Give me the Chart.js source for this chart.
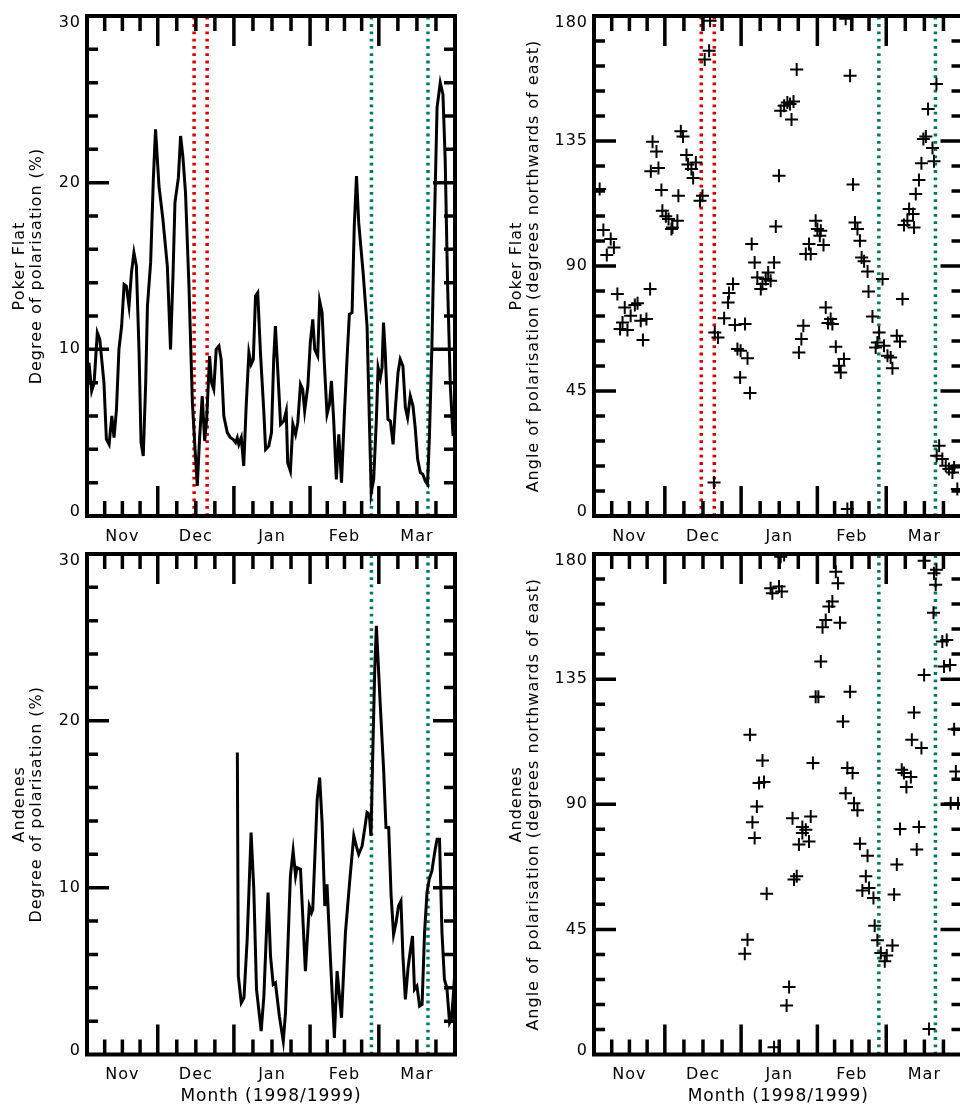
<!DOCTYPE html>
<html>
<head>
<meta charset="utf-8">
<script src="https://cdn.jsdelivr.net/npm/chart.js@4.4.1/dist/chart.umd.min.js"></script>
<style>
  html, body { margin: 0; padding: 0; background: #fff; width: 960px; height: 1109px; overflow: hidden; }
  canvas { position: absolute; }
</style>
</head>
<body>
<canvas id="pfDegree" width="480" height="550" style="left:0;top:0"></canvas>
<canvas id="pfAngle" width="500" height="550" style="left:480px;top:0"></canvas>
<canvas id="anDegree" width="480" height="569" style="left:0;top:540px"></canvas>
<canvas id="anAngle" width="500" height="569" style="left:480px;top:540px"></canvas>
<script>
// Time axis: days counted from 1 November 1998
const xMin = 1.2;
const xMax = 151;
const monthStarts = [30, 61, 92, 120];            // 1 Dec, 1 Jan, 1 Feb, 1 Mar
const monthNames = ['Nov', 'Dec', 'Jan', 'Feb', 'Mar'];

// Event markers
const redMarks = [44.8, 50.1];
const greenMarks = [117.0, 140.0];

// Poker Flat: degree of polarisation (%)
const pfDegDay = [2.0, 3.1, 4.1, 5.4, 6.4, 8.1, 9.1, 10.2, 11.3, 12.2, 13.2, 14.2, 15.3, 16.3, 17.2, 18.3, 19.3, 20.3, 21.3, 22.4,
  23.2, 24.1, 25.1, 25.8, 27.1, 28.2, 29.1, 30.5, 32.1, 33.9, 35.2, 36.2, 37.0, 38.4, 39.3, 40.2, 41.3, 42.7, 44.1, 45.1,
  46.1, 47.0, 48.1, 49.1, 49.9, 51.1, 51.9, 52.8, 53.8, 54.9, 55.8, 56.9, 58.3, 59.6, 60.7, 61.7, 62.4, 63.0, 64.0, 65.0,
  66.0, 67.1, 68.0, 68.9, 69.8, 70.7, 71.8, 73.2, 73.9, 75.2, 76.3, 77.2, 77.9, 78.9, 80.0, 81.3, 82.3, 82.9, 84.0, 85.0,
  86.1, 87.0, 88.1, 89.0, 89.8, 91.1, 92.1, 93.1, 93.9, 95.1, 95.9, 96.9, 97.8, 98.9, 99.9, 100.7, 101.6, 102.7, 103.7, 104.8,
  106.0, 107.1, 108.0, 109.1, 110.0, 110.9, 111.8, 113.6, 115.2, 116.3, 116.9, 117.9, 119.0, 119.7, 120.6, 121.3, 121.9, 122.6, 123.7, 124.7,
  125.8, 126.7, 127.8, 128.7, 129.8, 130.8, 131.7, 132.8, 133.9, 134.8, 135.8, 136.9, 137.9, 138.9, 139.8, 140.6, 141.6, 142.6, 143.7, 145.0,
  146.1, 147.0, 148.0, 149.1, 150.2, 151.1];
const pfDegVal = [9.2, 7.5, 8.0, 11.0, 10.6, 8.0, 4.6, 4.3, 6.0, 4.7, 6.4, 10.0, 11.4, 13.9, 13.8, 12.6, 14.6, 15.8, 15.0, 9.8,
  4.4, 3.6, 8.0, 12.6, 15.2, 20.2, 23.2, 19.8, 17.8, 15.0, 10.0, 14.4, 18.8, 20.3, 22.8, 21.6, 19.4, 13.8, 6.8, 4.2,
  1.8, 4.6, 7.2, 4.5, 5.8, 9.6, 8.0, 7.6, 10.0, 10.2, 9.4, 6.0, 5.0, 4.7, 4.6, 4.4, 4.7, 4.3, 4.7, 3.0,
  6.6, 9.8, 9.1, 9.4, 13.2, 13.4, 9.8, 6.2, 4.0, 4.2, 5.0, 9.4, 11.4, 8.6, 5.5, 5.7, 6.3, 3.2, 2.7, 5.5,
  4.9, 5.6, 7.9, 7.6, 6.3, 7.8, 10.4, 11.8, 10.0, 9.6, 12.9, 12.2, 9.2, 6.1, 6.7, 8.1, 5.8, 2.2, 4.9, 2.0,
  6.2, 9.6, 12.1, 12.2, 17.4, 20.4, 17.6, 14.6, 11.4, 4.8, 1.4, 2.2, 5.8, 8.9, 8.3, 8.9, 11.6, 9.8, 5.8, 5.7,
  4.3, 6.4, 8.6, 9.4, 9.0, 6.5, 5.9, 7.2, 6.6, 5.3, 3.4, 2.6, 2.5, 2.1, 1.9, 4.8, 10.2, 17.4, 24.5, 26.0,
  25.3, 21.4, 13.8, 7.8, 4.8, 5.8];

// Andenes: degree of polarisation (%)
const anDegDay = [62.4, 62.8, 64.0, 65.1, 66.4, 68.0, 69.1, 70.2, 72.1, 73.2, 74.9, 75.9, 77.0, 77.9, 79.5, 81.1, 82.0, 84.0, 85.1, 86.1,
  86.7, 88.1, 90.1, 91.7, 92.6, 93.1, 94.9, 95.9, 96.9, 98.0, 98.9, 100.3, 101.9, 103.0, 104.8, 106.4, 108.2, 109.8, 110.8, 111.8,
  113.2, 114.2, 115.2, 116.1, 116.8, 117.6, 118.3, 119.0, 120.6, 122.0, 122.9, 124.0, 125.0, 126.0, 127.0, 128.0, 129.0, 129.8, 130.8, 131.9,
  132.8, 133.7, 134.5, 135.5, 136.6, 137.6, 138.6, 139.6, 140.5, 141.6, 142.7, 143.7, 144.7, 145.7, 146.7, 147.7, 148.8, 149.5, 150.2, 151.1];
const anDegVal = [18.1, 4.7, 3.1, 3.4, 6.9, 13.3, 9.9, 3.9, 1.4, 3.5, 9.7, 5.9, 4.2, 4.3, 2.3, 0.8, 2.5, 10.7, 12.2, 10.7,
  11.2, 11.1, 5.0, 8.9, 8.5, 8.7, 15.3, 16.6, 13.9, 8.9, 10.2, 5.7, 1.0, 5.0, 2.2, 7.3, 10.5, 13.1, 12.5, 12.0,
  12.5, 13.5, 14.5, 14.4, 13.1, 18.5, 22.9, 25.7, 20.9, 16.9, 13.6, 13.6, 9.5, 7.2, 7.9, 8.9, 9.2, 5.9, 3.3, 5.2,
  6.2, 7.1, 3.9, 4.1, 2.9, 3.0, 7.3, 9.7, 10.5, 11.0, 12.1, 12.9, 12.9, 7.3, 4.5, 4.0, 1.9, 2.1, 3.3, 5.3];

// Poker Flat: angle of polarisation (degrees northwards of east)
const pfAngDay = [3.5, 5.0, 6.4, 8.0, 9.3, 10.7, 11.8, 12.8, 13.7, 14.8, 16.1, 17.8, 18.9, 20.2, 21.1, 22.5, 24.0, 24.3, 25.0, 26.6,
  27.4, 28.6, 29.0, 30.4, 31.5, 32.7, 33.1, 35.1, 35.5, 36.5, 37.4, 38.8, 39.4, 40.8, 41.5, 42.6, 44.3, 45.3, 46.2, 48.0,
  48.4, 50.0, 50.3, 51.6, 54.1, 55.7, 56.1, 57.7, 58.5, 59.5, 60.6, 60.8, 62.6, 63.6, 64.6, 65.3, 66.5, 67.6, 69.0, 69.7,
  71.0, 72.0, 73.0, 74.4, 75.1, 76.4, 77.1, 78.5, 79.8, 80.9, 81.5, 82.3, 83.6, 84.5, 85.5, 86.3, 87.3, 88.6, 89.3, 91.3,
  92.0, 93.0, 93.4, 94.5, 95.4, 96.3, 97.4, 98.1, 99.5, 100.8, 101.5, 102.8, 103.5, 104.2, 105.3, 106.5, 107.3, 108.3, 109.3, 110.0,
  111.0, 112.4, 112.8, 114.4, 115.7, 116.4, 117.1, 118.5, 119.1, 120.5, 121.8, 122.5, 124.3, 125.6, 126.6, 127.2, 128.6, 129.3, 130.9, 131.3,
  132.0, 133.3, 134.3, 135.1, 136.1, 137.0, 138.8, 139.4, 140.4, 140.5, 141.5, 142.8, 144.2, 145.5, 146.9, 147.6, 148.9];
const pfAngVal = [117.7, 103.0, 94.0, 99.7, 96.7, 79.9, 67.3, 69.7, 75.1, 67.0, 72.1, 76.0, 76.6, 70.3, 63.4, 70.9, 81.7, 124.1, 134.7, 131.2,
  125.3, 117.4, 109.9, 107.9, 106.9, 103.3, 103.9, 106.3, 115.3, 138.5, 136.6, 130.0, 126.5, 124.9, 121.7, 127.3, 113.5, 115.3, 164.3, 167.5,
  178.3, 12.1, 66.1, 64.3, 71.2, 76.9, 80.3, 83.5, 68.8, 60.1, 49.9, 59.5, 69.1, 56.8, 44.3, 97.9, 91.3, 85.9, 81.7, 83.5,
  85.3, 87.7, 84.7, 91.3, 104.2, 122.5, 145.9, 147.7, 148.9, 148.3, 142.7, 149.2, 160.7, 58.9, 63.7, 68.5, 94.3, 97.9, 94.3, 106.3,
  103.3, 100.9, 102.7, 97.6, 75.1, 69.5, 70.9, 69.1, 60.9, 54.1, 51.7, 56.5, 179.0, 2.5, 158.5, 119.3, 105.7, 103.3, 99.1, 93.1,
  91.7, 88.0, 80.8, 71.8, 60.7, 62.5, 66.1, 85.3, 61.3, 57.7, 57.1, 53.2, 64.9, 62.8, 78.1, 104.8, 106.3, 110.5, 108.7, 103.9,
  115.9, 121.0, 127.0, 135.7, 136.6, 146.5, 132.5, 127.7, 155.5, 21.7, 25.3, 20.5, 18.1, 16.9, 15.7, 17.5, 9.7];

// Andenes: angle of polarisation (degrees northwards of east)
const anAngDay = [62.5, 63.6, 64.6, 65.6, 66.5, 67.4, 68.3, 69.7, 70.3, 71.4, 73.0, 73.7, 74.4, 76.4, 77.1, 77.5, 78.5, 79.5, 80.5, 81.9,
  82.5, 83.6, 84.5, 85.9, 85.9, 87.3, 88.6, 89.3, 90.2, 91.3, 92.4, 93.4, 94.1, 95.4, 96.7, 98.1, 99.5, 100.4, 101.2, 102.4,
  103.5, 104.2, 105.3, 106.3, 106.9, 108.3, 109.3, 110.3, 111.7, 112.4, 113.0, 114.8, 115.3, 116.4, 117.8, 119.4, 120.2, 122.5, 123.2, 124.3,
  125.6, 126.3, 127.2, 128.2, 130.0, 130.4, 131.3, 132.4, 133.3, 134.3, 135.4, 135.4, 137.4, 139.2, 139.4, 140.1, 140.4, 142.8, 143.5, 144.6,
  145.9, 146.2, 147.6, 148.3, 149.2];
const anAngVal = [36.2, 41.3, 115.0, 83.5, 77.9, 89.2, 97.6, 105.7, 98.0, 57.8, 167.7, 165.9, 2.6, 168.3, 179.0, 166.5, 179.6, 17.6, 24.3, 85.0,
  62.9, 64.1, 75.5, 81.8, 79.7, 80.8, 76.6, 85.6, 104.8, 128.7, 128.7, 141.3, 153.7, 156.3, 161.1, 162.9, 173.6, 169.5, 155.3, 119.8,
  94.0, 103.0, 130.5, 101.2, 90.4, 87.8, 75.8, 59.0, 64.1, 71.5, 59.9, 56.3, 46.3, 41.1, 36.5, 33.5, 35.6, 39.2, 57.5, 68.3,
  81.1, 102.4, 101.2, 96.2, 99.8, 113.2, 123.0, 73.7, 81.8, 110.2, 177.6, 136.5, 9.2, 158.9, 173.1, 168.9, 174.3, 148.5, 139.5, 149.1,
  140.1, 90.4, 117.0, 101.8, 90.4];

const FONT = "'DejaVu Sans', 'Liberation Sans', sans-serif";
const pts = (xs, ys) => xs.map((d, i) => ({ x: d, y: ys[i] }));

// Slightly open letter spacing for all axis text
const spacingPlugin = {
  id: 'spacing',
  beforeUpdate(chart) { chart.ctx.letterSpacing = '1px'; },
  beforeDraw(chart) { chart.ctx.letterSpacing = '1px'; }
};

// Boxed axes with inward tick marks on all four sides
const framePlugin = {
  id: 'frame',
  afterDatasetsDraw(chart, args, opts) {
    const { ctx, chartArea: a, scales: { x, y } } = chart;
    ctx.save();
    ctx.strokeStyle = '#000';
    ctx.lineCap = 'butt';
    ctx.lineWidth = 3.5;
    ctx.beginPath();
    const bounds = [x.min, ...monthStarts, x.max];
    monthStarts.forEach(d => {
      const p = x.getPixelForValue(d);
      ctx.moveTo(p, a.bottom); ctx.lineTo(p, a.bottom - 30);
      ctx.moveTo(p, a.top); ctx.lineTo(p, a.top + 30);
    });
    for (let i = 0; i < bounds.length - 1; i++) {
      for (let k = 1; k < 4; k++) {
        const p = x.getPixelForValue(bounds[i] + (bounds[i + 1] - bounds[i]) * k / 4);
        ctx.moveTo(p, a.bottom); ctx.lineTo(p, a.bottom - 15);
        ctx.moveTo(p, a.top); ctx.lineTo(p, a.top + 15);
      }
    }
    const minor = opts.step / 5;
    for (let i = 1; i * minor < y.max - 1e-6; i++) {
      const v = i * minor;
      const len = (i % 5 === 0) ? 22 : 11;
      const p = y.getPixelForValue(v);
      ctx.moveTo(a.left, p); ctx.lineTo(a.left + len, p);
      ctx.moveTo(a.right, p); ctx.lineTo(a.right - len, p);
    }
    ctx.stroke();
    ctx.lineWidth = 4;
    ctx.strokeRect(a.left, a.top, a.right - a.left, a.bottom - a.top);
    ctx.restore();
  }
};

function markerSets(yMax) {
  const mk = (d, color) => ({
    data: [{ x: d, y: 0 }, { x: d, y: yMax }],
    borderColor: color,
    borderWidth: 3.5,
    borderDash: [2.8, 4.5],
    pointRadius: 0,
    showLine: true,
    fill: false
  });
  return { red: redMarks.map(d => mk(d, '#d40000')), green: greenMarks.map(d => mk(d, '#00775f')) };
}

function makePanel(id, o) {
  const marks = markerSets(o.yMax);
  const sets = [o.main, ...(o.red ? marks.red : []), ...marks.green];
  // End labels of the value axis sit just inside the box
  const yLabel = v => v === 0 ? ['0', ''] : v === o.yMax ? ['', String(v)] : String(v);
  const yFont = c => ({
    family: FONT, size: 16,
    lineHeight: c.tick && c.tick.value === 0 ? '8px' : c.tick && c.tick.value === o.yMax ? '14px' : 1.2
  });
  return new Chart(document.getElementById(id), {
    type: 'line',
    data: { datasets: sets },
    options: {
      responsive: false,
      animation: false,
      events: [],
      layout: { padding: { top: o.top, right: o.right, left: 0, bottom: 0 } },
      plugins: { legend: { display: false }, tooltip: { enabled: false }, frame: { step: o.step } },
      scales: {
        x: {
          type: 'linear', min: xMin, max: xMax,
          grid: { display: false, drawTicks: false }, border: { display: false },
          afterBuildTicks: s => {
            const b = [xMin, ...monthStarts, xMax];
            s.ticks = monthNames.map((n, i) => ({ value: (b[i] + b[i + 1]) / 2 }));
          },
          ticks: {
            autoSkip: false, maxRotation: 0, padding: 11,
            color: '#000', font: { family: FONT, size: 16 },
            callback: (v, i) => monthNames[i]
          },
          afterFit: s => { s.height = o.xAxisHeight; s.paddingLeft = 0; s.paddingRight = 0; },
          title: {
            display: !!o.xTitle, text: o.xTitle || '', color: '#000',
            font: { family: FONT, size: 17 }, padding: { top: 0, bottom: 2.4 }
          }
        },
        y: {
          type: 'linear', min: 0, max: o.yMax,
          grid: { display: false, drawTicks: false }, border: { display: false },
          ticks: { stepSize: o.step, padding: 6, color: '#000', font: yFont, callback: yLabel },
          afterFit: s => { s.width = o.yAxisWidth; s.paddingTop = 0; s.paddingBottom = 0; },
          title: {
            display: true, text: o.yTitle, color: '#000',
            font: { family: FONT, size: 16, lineHeight: '17px' },
            padding: { top: o.yTitlePad, bottom: 0 }
          }
        }
      }
    },
    plugins: [spacingPlugin, framePlugin]
  });
}

const lineSet = (xs, ys) => ({
  data: pts(xs, ys), borderColor: '#000', borderWidth: 3, pointRadius: 0, tension: 0, fill: false
});
const crossSet = (xs, ys) => ({
  data: pts(xs, ys), showLine: false, pointStyle: 'cross', pointRadius: 6.5,
  pointBorderWidth: 2, borderColor: '#000', backgroundColor: '#000'
});

makePanel('pfDegree', {
  main: lineSet(pfDegDay, pfDegVal), red: true, yMax: 30, step: 10,
  top: 16, right: 25, xAxisHeight: 34, yAxisWidth: 87, yTitlePad: 11.5,
  yTitle: ['Poker Flat', 'Degree of polarisation (%)']
});
makePanel('pfAngle', {
  main: crossSet(pfAngDay, pfAngVal), red: true, yMax: 180, step: 45,
  top: 16, right: 17.5, xAxisHeight: 34, yAxisWidth: 114, yTitlePad: 28.5,
  yTitle: ['Poker Flat', 'Angle of polarisation (degrees northwards of east)']
});
makePanel('anDegree', {
  main: lineSet(anDegDay, anDegVal), red: false, yMax: 30, step: 10,
  top: 14, right: 25, xAxisHeight: 54.5, yAxisWidth: 87, yTitlePad: 11.5,
  yTitle: ['Andenes', 'Degree of polarisation (%)'], xTitle: 'Month (1998/1999)'
});
makePanel('anAngle', {
  main: crossSet(anAngDay, anAngVal), red: false, yMax: 180, step: 45,
  top: 14, right: 17.5, xAxisHeight: 54.5, yAxisWidth: 114, yTitlePad: 28.5,
  yTitle: ['Andenes', 'Angle of polarisation (degrees northwards of east)'], xTitle: 'Month (1998/1999)'
});
</script>
</body>
</html>
